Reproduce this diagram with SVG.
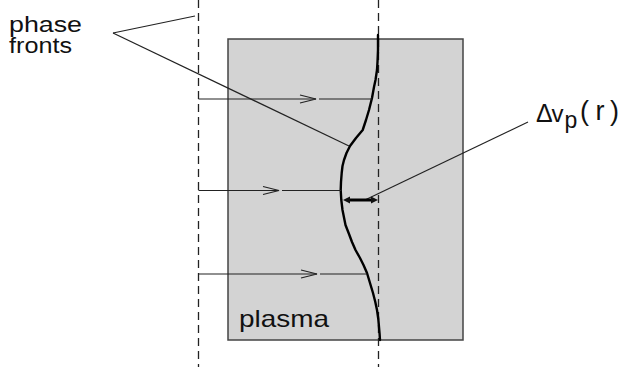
<svg xmlns="http://www.w3.org/2000/svg" width="627" height="367" viewBox="0 0 627 367">
  <style>
    .lbl { font-family: "Liberation Sans", Arial, sans-serif; fill: #111; }
    .dash { stroke: #222; stroke-width: 1.3; stroke-dasharray: 8 5; fill: none; }
    .thin { stroke: #222; stroke-width: 1.2; fill: none; }
    .ray { stroke: #222; stroke-width: 1.2; fill: none; marker-end: url(#open); }
  </style>
  <defs>
    <marker id="open" markerUnits="userSpaceOnUse" markerWidth="18" markerHeight="10" refX="16" refY="4" orient="auto" overflow="visible">
      <path d="M0,0 L16,4 L0,8" fill="none" stroke="#222" stroke-width="1.2"/>
    </marker>
    <marker id="solid" markerUnits="userSpaceOnUse" markerWidth="8" markerHeight="8" refX="0" refY="3.5" orient="auto-start-reverse" overflow="visible">
      <path d="M0,0 L7,3.5 L0,7 Z" fill="#111"/>
    </marker>
  </defs>

  <rect width="627" height="367" fill="#fff"/>

  <g id="plasma">
    <rect x="228" y="39" width="235" height="301" fill="#d3d3d3" stroke="#444" stroke-width="1.5"/>
    <text class="lbl" x="239" y="327" font-size="24" textLength="90" lengthAdjust="spacingAndGlyphs">plasma</text>
  </g>

  <g id="phase-fronts-label">
    <text class="lbl" x="9" y="31.5" font-size="22.5" textLength="73" lengthAdjust="spacingAndGlyphs">phase</text>
    <text class="lbl" x="9" y="53" font-size="22.5" textLength="63" lengthAdjust="spacingAndGlyphs">fronts</text>
  </g>

  <g id="delta-vp-label">
    <text class="lbl" x="536" y="122" font-size="25">Δ</text>
    <text class="lbl" x="551.5" y="122" font-size="24">v</text>
    <text class="lbl" x="564.5" y="128" font-size="23">p</text>
    <text class="lbl" x="580" y="120" font-size="27">(</text>
    <text class="lbl" x="595.5" y="120" font-size="27">r</text>
    <text class="lbl" x="610" y="120" font-size="27">)</text>
  </g>

  <g id="phase-front-left">
    <line class="dash" x1="198.5" y1="0" x2="198.5" y2="367"/>
  </g>
  <g id="phase-front-right">
    <line class="dash" x1="378.5" y1="0" x2="378.5" y2="367"/>
  </g>

  <g id="distorted-front">
    <path d="M378,35 L378,50 L377.5,62 L377,70 L375.5,80 L374,87 L372,98 L369,110 L366,120 L362.7,130 L356,138 L350,146 L346.5,153 L344,160 L342.5,166 L341.7,173 L341,182 L340.7,190 L341.3,200 L342.5,210 L345.5,225 L349,234 L352,242 L355.5,250 L360,258 L363.5,265 L367,273 L370,283 L373,293 L375.3,302 L377,310 L378.3,319 L379,327 L379.6,334 L380,340" fill="none" stroke="#000" stroke-width="2.4" stroke-linejoin="round" stroke-linecap="round"/>
  </g>

  <g id="connectors">
    <line class="ray" x1="198.5" y1="99" x2="316" y2="99"/>
    <line class="thin" x1="319" y1="99" x2="372" y2="99"/>
    <line class="ray" x1="198.5" y1="190.5" x2="279" y2="190.5"/>
    <line class="thin" x1="282" y1="190.5" x2="341" y2="190.5"/>
    <line class="ray" x1="198.5" y1="274" x2="317" y2="274"/>
    <line class="thin" x1="320" y1="274" x2="367" y2="274"/>
    <line class="thin" x1="113" y1="33" x2="195" y2="16"/>
    <line class="thin" x1="113" y1="33" x2="349" y2="146"/>
    <line class="thin" x1="528" y1="122" x2="366" y2="199.5"/>
    <line x1="350" y1="200" x2="371" y2="200" stroke="#000" stroke-width="3" marker-start="url(#solid)" marker-end="url(#solid)"/>
  </g>
</svg>
